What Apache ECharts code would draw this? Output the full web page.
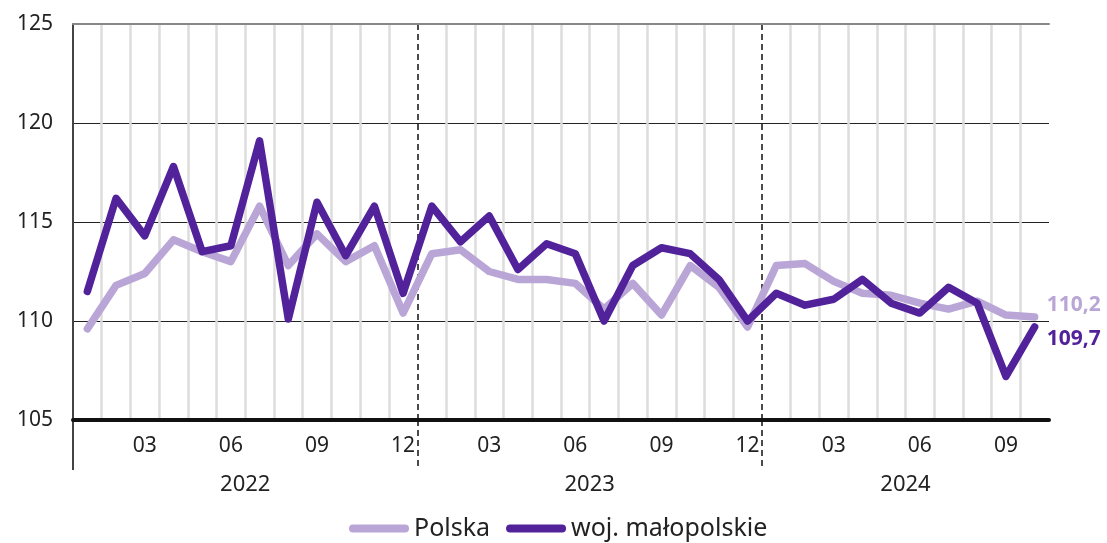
<!DOCTYPE html>
<html>
<head>
<meta charset="utf-8">
<script src="https://cdn.jsdelivr.net/npm/echarts@6/dist/echarts.min.js"></script>
<style>
html,body{margin:0;padding:0;background:#fff;}
#chart{width:1107px;height:543px;}
</style>
</head>
<body>
<div id="chart"></div>
<script>
const categories = [
  '2022-01','2022-02','2022-03','2022-04','2022-05','2022-06','2022-07','2022-08','2022-09','2022-10','2022-11','2022-12',
  '2023-01','2023-02','2023-03','2023-04','2023-05','2023-06','2023-07','2023-08','2023-09','2023-10','2023-11','2023-12',
  '2024-01','2024-02','2024-03','2024-04','2024-05','2024-06','2024-07','2024-08','2024-09','2024-10'
];
const polska = [
  109.6, 111.8, 112.4, 114.1, 113.5, 113.0, 115.8, 112.8, 114.4, 113.0, 113.8, 110.4,
  113.4, 113.6, 112.5, 112.1, 112.1, 111.9, 110.6, 111.9, 110.3, 112.8, 111.7, 109.7,
  112.8, 112.9, 112.0, 111.4, 111.3, 110.9, 110.6, 111.0, 110.3, 110.2
];
const malopolskie = [
  111.5, 116.2, 114.3, 117.8, 113.5, 113.8, 119.1, 110.1, 116.0, 113.3, 115.8, 111.4,
  115.8, 114.0, 115.3, 112.6, 113.9, 113.4, 110.0, 112.8, 113.7, 113.4, 112.1, 110.0,
  111.4, 110.8, 111.1, 112.1, 110.9, 110.4, 111.7, 110.9, 107.2, 109.7
];
const seriesNames = ['Polska', 'woj. małopolskie'];
const monthTickLabels = ['03', '06', '09', '12'];
const yMin = 105, yMax = 125, yStep = 5;

// derive year groups from categories
const years = [];
const yearStart = {};
const yearEnd = {};
categories.forEach((c, i) => {
  const y = c.slice(0, 4);
  if (!(y in yearStart)) { years.push(y); yearStart[y] = i; }
  yearEnd[y] = i + 1;
});
const yearCenters = years.map(y => (yearStart[y] + yearEnd[y]) / 2);
const yearBoundaries = years.slice(1).map(y => yearStart[y]);
const monthBoundaries = [];
for (let i = 1; i < categories.length; i++) {
  if (yearBoundaries.indexOf(i) < 0) monthBoundaries.push(i);
}

const FONT = 'Noto Sans';
const lightColor = '#b9a6d7';
const darkColor = '#52229b';
const fmt = v => v.toFixed(1).replace('.', ',');

const chart = echarts.init(document.getElementById('chart'));
chart.setOption({
  animation: false,
  textStyle: { fontFamily: FONT },
  grid: { left: 73, right: 58, top: 24, bottom: 123, containLabel: false },
  legend: {
    left: 344, top: 511,
    itemWidth: 60, itemHeight: 8, itemGap: 16,
    icon: 'path://M4,0 L56,0 A4,4 0 0 1 56,8 L4,8 A4,4 0 0 1 4,0 Z',
    textStyle: { fontFamily: FONT, fontSize: 25, color: '#222' },
    data: seriesNames
  },
  xAxis: [
    {
      type: 'category',
      data: categories,
      boundaryGap: true,
      position: 'bottom',
      axisLine: { show: true, onZero: false, lineStyle: { color: '#111', width: 4 } },
      axisTick: { show: false },
      axisLabel: {
        interval: (i, v) => monthTickLabels.indexOf(v.slice(5)) >= 0,
        formatter: v => v.slice(5),
        margin: 16, fontSize: 21, color: '#222', fontFamily: FONT
      },
      splitLine: { show: false },
      z: 5
    },
    {
      type: 'value', min: 0, max: categories.length, position: 'bottom',
      axisLine: { show: false, onZero: false },
      axisTick: { show: true, customValues: [0], length: 50, lineStyle: { color: '#444', width: 2 } },
      axisLabel: {
        customValues: yearCenters,
        formatter: v => years[yearCenters.indexOf(v)] || '',
        margin: 54, fontSize: 22, color: '#222', fontFamily: FONT
      },
      splitLine: { show: false }
    },
    {
      type: 'value', min: 0, max: categories.length, position: 'bottom',
      axisLine: { show: false, onZero: false },
      axisTick: { show: true, customValues: yearBoundaries, length: 50, lineStyle: { color: '#111', width: 1.5, type: [6, 4] } },
      axisLabel: { show: false },
      splitLine: { show: true, lineStyle: { color: '#111', width: 1.5, type: [6, 4] } }
    },
    {
      type: 'value', min: 0, max: categories.length, position: 'top',
      axisLine: { show: true, onZero: false, lineStyle: { color: '#888', width: 2 } },
      axisTick: { show: false }, axisLabel: { show: false }, splitLine: { show: false }
    },
    {
      type: 'value', min: 0, max: categories.length, position: 'bottom',
      axisLine: { show: false, onZero: false },
      axisTick: { show: false, customValues: monthBoundaries },
      axisLabel: { show: false },
      splitLine: { show: true, lineStyle: { color: '#dcdcdc', width: 2.5 } }
    }
  ],
  yAxis: {
    type: 'value', min: yMin, max: yMax, interval: yStep,
    axisLine: { show: true, lineStyle: { color: '#444', width: 2 } },
    axisTick: { show: false },
    axisLabel: { margin: 20, fontSize: 21, color: '#222', fontFamily: FONT },
    splitLine: { show: true, lineStyle: { color: '#222', width: 1 } }
  },
  series: [
    {
      name: seriesNames[0], type: 'line', data: polska, xAxisIndex: 0,
      symbol: 'none', showSymbol: false,
      itemStyle: { color: lightColor },
      lineStyle: { color: lightColor, width: 7.5, cap: 'round', join: 'round' },
      endLabel: {
        show: true, formatter: p => fmt(p.value), distance: 12, offset: [0, -12],
        color: lightColor, fontSize: 21, fontWeight: 'bold', fontFamily: FONT
      },
      z: 3
    },
    {
      name: seriesNames[1], type: 'line', data: malopolskie, xAxisIndex: 0,
      symbol: 'none', showSymbol: false,
      itemStyle: { color: darkColor },
      lineStyle: { color: darkColor, width: 7.5, cap: 'round', join: 'round' },
      endLabel: {
        show: true, formatter: p => fmt(p.value), distance: 12, offset: [0, 12],
        color: darkColor, fontSize: 21, fontWeight: 'bold', fontFamily: FONT
      },
      z: 4
    }
  ]
});
</script>
</body>
</html>
